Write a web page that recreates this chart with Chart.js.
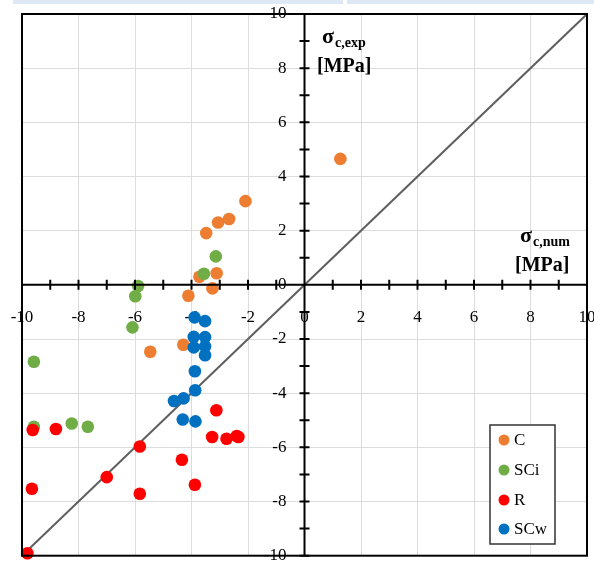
<!DOCTYPE html>
<html>
<head>
<meta charset="utf-8">
<script src="https://cdn.jsdelivr.net/npm/chart.js@4.4.1/dist/chart.umd.min.js"></script>
<style>
    html, body { margin: 0; padding: 0; background: #fff; }
    #wrap { width: 594px; height: 562px; }
</style>
</head>
<body>
<div id="wrap"><canvas id="chart-canvas" width="594" height="562"></canvas></div>
<script>
// Valores (x = sigma c,num, y = sigma c,exp)
const seriesNames = ['C', 'SCi', 'R', 'SCw']
const seriesColors = ['#ED7D31', '#70AD47', '#FF0000', '#0070C0']

const cX = [-2.09, -2.67, -3.06, -3.48, -3.11, -3.72, -3.26, -4.11, -4.29, -5.46, 1.27]
const cY = [3.09, 2.43, 2.30, 1.91, 0.43, 0.30, -0.13, -0.40, -2.21, -2.47, 4.65]

const sciX = [-3.14, -3.56, -5.89, -5.99, -6.09, -9.58, -9.58, -8.24, -7.67]
const sciY = [1.05, 0.41, -0.04, -0.42, -1.57, -2.84, -5.24, -5.12, -5.24]

const rX = [-9.62, -8.80, -5.83, -7.00, -9.65, -5.83, -9.81, -4.34, -3.88, -3.12, -3.27, -2.76, -2.40, -2.34]
const rY = [-5.36, -5.32, -5.97, -7.10, -7.53, -7.71, -9.91, -6.46, -7.38, -4.63, -5.62, -5.68, -5.58, -5.62]

const scwX = [-3.89, -3.52, -3.92, -3.52, -3.92, -3.52, -3.52, -3.88, -3.87, -4.62, -4.28, -4.31, -3.86]
const scwY = [-1.20, -1.34, -1.92, -1.93, -2.31, -2.27, -2.60, -3.19, -3.89, -4.29, -4.19, -4.97, -5.04]

// Linha y = x
const diagX = [-10, 10]
const diagY = [-10, 10]

const axisMin = -10
const axisMax = 10
const labelStep = 2
const minorStep = 1

const toPoints = (xs, ys) => xs.map((x, i) => ({ x: x, y: ys[i] }))

const seriesData = [toPoints(cX, cY), toPoints(sciX, sciY), toPoints(rX, rY), toPoints(scwX, scwY)]

const datasets = seriesData.map((pts, i) => ({
    type: 'scatter',
    label: seriesNames[i],
    data: pts,
    backgroundColor: seriesColors[i],
    borderWidth: 0,
    pointRadius: 6.3,
    pointHoverRadius: 6.3,
    order: seriesData.length - i,   // Excel desenha a última série por cima
    clip: false
}))

datasets.push({
    type: 'line',
    label: 'y=x',
    data: toPoints(diagX, diagY),
    borderColor: '#5f5f5f',
    borderWidth: 2,
    pointRadius: 0,
    order: 10
})

const serif = "'Liberation Serif', 'Times New Roman', serif"

// Zera o espaço das escalas centrais para não encolher a área do gráfico
function noSpace(scale) {
    if (scale.isHorizontal()) {
        scale.height = 0
    } else {
        scale.width = 0
    }
    scale.paddingLeft = 0
    scale.paddingRight = 0
    scale.paddingTop = 0
    scale.paddingBottom = 0
}

const decorations = {
    id: 'decorations',
    beforeDraw(chart) {
        const ctx = chart.ctx
        ctx.save()
        ctx.fillStyle = '#ffffff'
        ctx.fillRect(0, 0, chart.width, chart.height)
        ctx.fillStyle = '#dfe9f6'
        ctx.fillRect(13, 0, 330, 4)
        ctx.fillRect(347, 0, chart.width - 347, 4)
        ctx.restore()
    },
    afterDatasetsDraw(chart) {
        const ctx = chart.ctx
        const area = chart.chartArea
        const xs = chart.scales.x
        const ys = chart.scales.y
        const x0 = xs.getPixelForValue(0)
        const y0 = ys.getPixelForValue(0)

        ctx.save()
        ctx.strokeStyle = '#000'
        ctx.lineWidth = 2

        // Moldura
        ctx.strokeRect(area.left, area.top, area.right - area.left, area.bottom - area.top)

        // Eixos cruzados em zero
        ctx.beginPath()
        ctx.moveTo(area.left, y0)
        ctx.lineTo(area.right, y0)
        ctx.moveTo(x0, area.top)
        ctx.lineTo(x0, area.bottom)

        // Marcas a cada unidade
        for (let v = axisMin; v <= axisMax; v += minorStep) {
            const px = xs.getPixelForValue(v)
            ctx.moveTo(px, y0 - 5)
            ctx.lineTo(px, y0 + 5)
            const py = ys.getPixelForValue(v)
            ctx.moveTo(x0 - 5, py)
            ctx.lineTo(x0 + 5, py)
        }
        ctx.stroke()
        ctx.restore()
    },
    afterDraw(chart) {
        const ctx = chart.ctx
        ctx.save()
        ctx.fillStyle = '#000'
        ctx.textBaseline = 'alphabetic'
        ctx.textAlign = 'left'

        // Títulos dos eixos
        const title = (x, y, sub) => {
            ctx.font = 'bold 22px ' + serif
            ctx.fillText('σ', x, y)
            const w = ctx.measureText('σ').width
            ctx.font = 'bold 14px ' + serif
            ctx.fillText(sub, x + w + 1, y + 4)
            ctx.font = 'bold 20px ' + serif
            ctx.fillText('[MPa]', x - 5, y + 29)
        }
        title(322, 43, 'c,exp')
        title(520, 242, 'c,num')

        // Legenda dentro da área do gráfico
        ctx.fillStyle = '#fff'
        ctx.fillRect(490, 425, 65, 119)
        ctx.strokeStyle = '#333'
        ctx.lineWidth = 1.5
        ctx.strokeRect(490, 425, 65, 119)

        const rowY = [440, 470, 500, 529]
        seriesNames.forEach((name, i) => {
            ctx.beginPath()
            ctx.fillStyle = seriesColors[i]
            ctx.arc(504, rowY[i], 5.5, 0, Math.PI * 2)
            ctx.fill()
            ctx.fillStyle = '#000'
            ctx.font = '17px ' + serif
            ctx.textBaseline = 'middle'
            ctx.fillText(name, 514, rowY[i] + 1)
        })
        ctx.restore()
    }
}

const ctx = document.getElementById('chart-canvas').getContext('2d')

new Chart(ctx, {
    data: { datasets: datasets },
    options: {
        responsive: false,
        animation: false,
        layout: {
            padding: { left: 22, top: 14, right: 7, bottom: 1 }
        },
        plugins: {
            legend: { display: false },
            tooltip: { enabled: false }
        },
        scales: {
            x: {
                type: 'linear',
                position: 'center',
                min: axisMin,
                max: axisMax,
                afterFit: noSpace,
                border: { display: false },
                grid: { color: '#dcdcdc', lineWidth: 1, drawTicks: false },
                ticks: {
                    stepSize: labelStep,
                    autoSkip: false,
                    maxRotation: 0,
                    padding: 22,
                    color: '#000',
                    font: { family: serif, size: 17 }
                }
            },
            y: {
                type: 'linear',
                position: 'center',
                min: axisMin,
                max: axisMax,
                afterFit: noSpace,
                border: { display: false },
                grid: { color: '#dcdcdc', lineWidth: 1, drawTicks: false },
                ticks: {
                    stepSize: labelStep,
                    autoSkip: false,
                    padding: 18,
                    color: '#000',
                    font: { family: serif, size: 17 }
                }
            }
        }
    },
    plugins: [decorations]
})
</script>
</body>
</html>
